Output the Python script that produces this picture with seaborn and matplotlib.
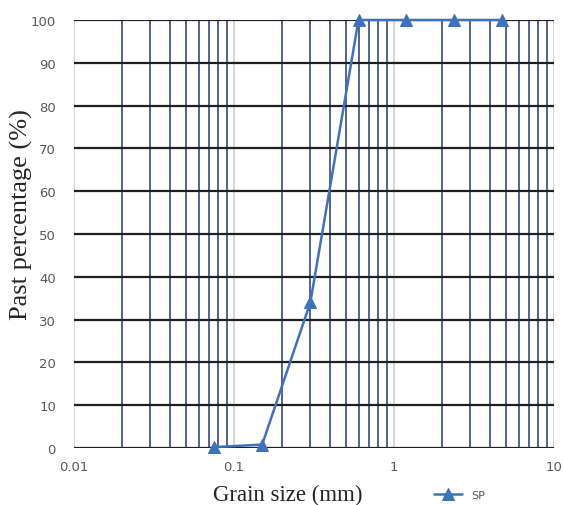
import matplotlib
matplotlib.use("Agg")
import matplotlib.pyplot as plt
import seaborn as sns
import pandas as pd
import numpy as np
from matplotlib.ticker import LogLocator, NullFormatter

# Sieve analysis of the SP sand
grain_size_mm = [0.075, 0.15, 0.3, 0.6, 1.18, 2.36, 4.75]
passing_pct = [0.2, 0.8, 34, 100, 100, 100, 100]
series_name = "SP"
x_ticks = [0.01, 0.1, 1, 10]
x_tick_labels = ["0.01", "0.1", "1", "10"]
y_ticks = list(range(0, 101, 10))

df = pd.DataFrame({"size": grain_size_mm, "passing": passing_pct, "sample": series_name})

sns.set_style("white")
fig = plt.figure(figsize=(5.63, 5.06), dpi=100)
ax = fig.add_axes([74 / 563, 1 - 449 / 506, 480 / 563, 428 / 506])

line_color = "#3f72b8"
sns.lineplot(data=df, x="size", y="passing", hue="sample", palette=[line_color],
             marker="^", markersize=8, markeredgecolor=line_color, linewidth=1.8,
             ax=ax, zorder=5, clip_on=False)

ax.set_xscale("log")
ax.set_xlim(0.01, 10)
ax.set_ylim(0, 100)

# grid: grey decades, navy sub-decades, dark horizontals
ax.set_xticks(x_ticks)
ax.set_xticklabels(x_tick_labels)
ax.xaxis.set_minor_locator(LogLocator(base=10, subs=np.arange(2, 10)))
ax.xaxis.set_minor_formatter(NullFormatter())
ax.set_yticks(y_ticks)

ax.grid(which="major", axis="x", color="#d0d0d0", linewidth=1.2)
ax.grid(which="minor", axis="x", color="#1f3a78", linewidth=1.1)
ax.grid(which="major", axis="y", color="#202020", linewidth=1.6)
ax.set_axisbelow(True)

for s in ax.spines.values():
    s.set_visible(False)
ax.tick_params(axis="both", which="both", length=0, labelsize=9.5, labelcolor="#595959")
ax.tick_params(axis="y", pad=13)
ax.tick_params(axis="x", pad=9)

ax.set_xlabel("Grain size (mm)", family="Liberation Serif", fontsize=16.5)
ax.xaxis.set_label_coords(0.445, -0.083)
ax.set_ylabel("Past percentage (%)", family="Liberation Serif", fontsize=19)
ax.yaxis.set_label_coords(-0.085, 0.547)

leg = ax.legend(loc="upper left", bbox_to_anchor=(0.73, -0.075), frameon=False,
                handlelength=2.5, prop={"family": "DejaVu Sans", "size": 8})
for t in leg.get_texts():
    t.set_color("#595959")

fig.savefig("out.png", dpi=100)
